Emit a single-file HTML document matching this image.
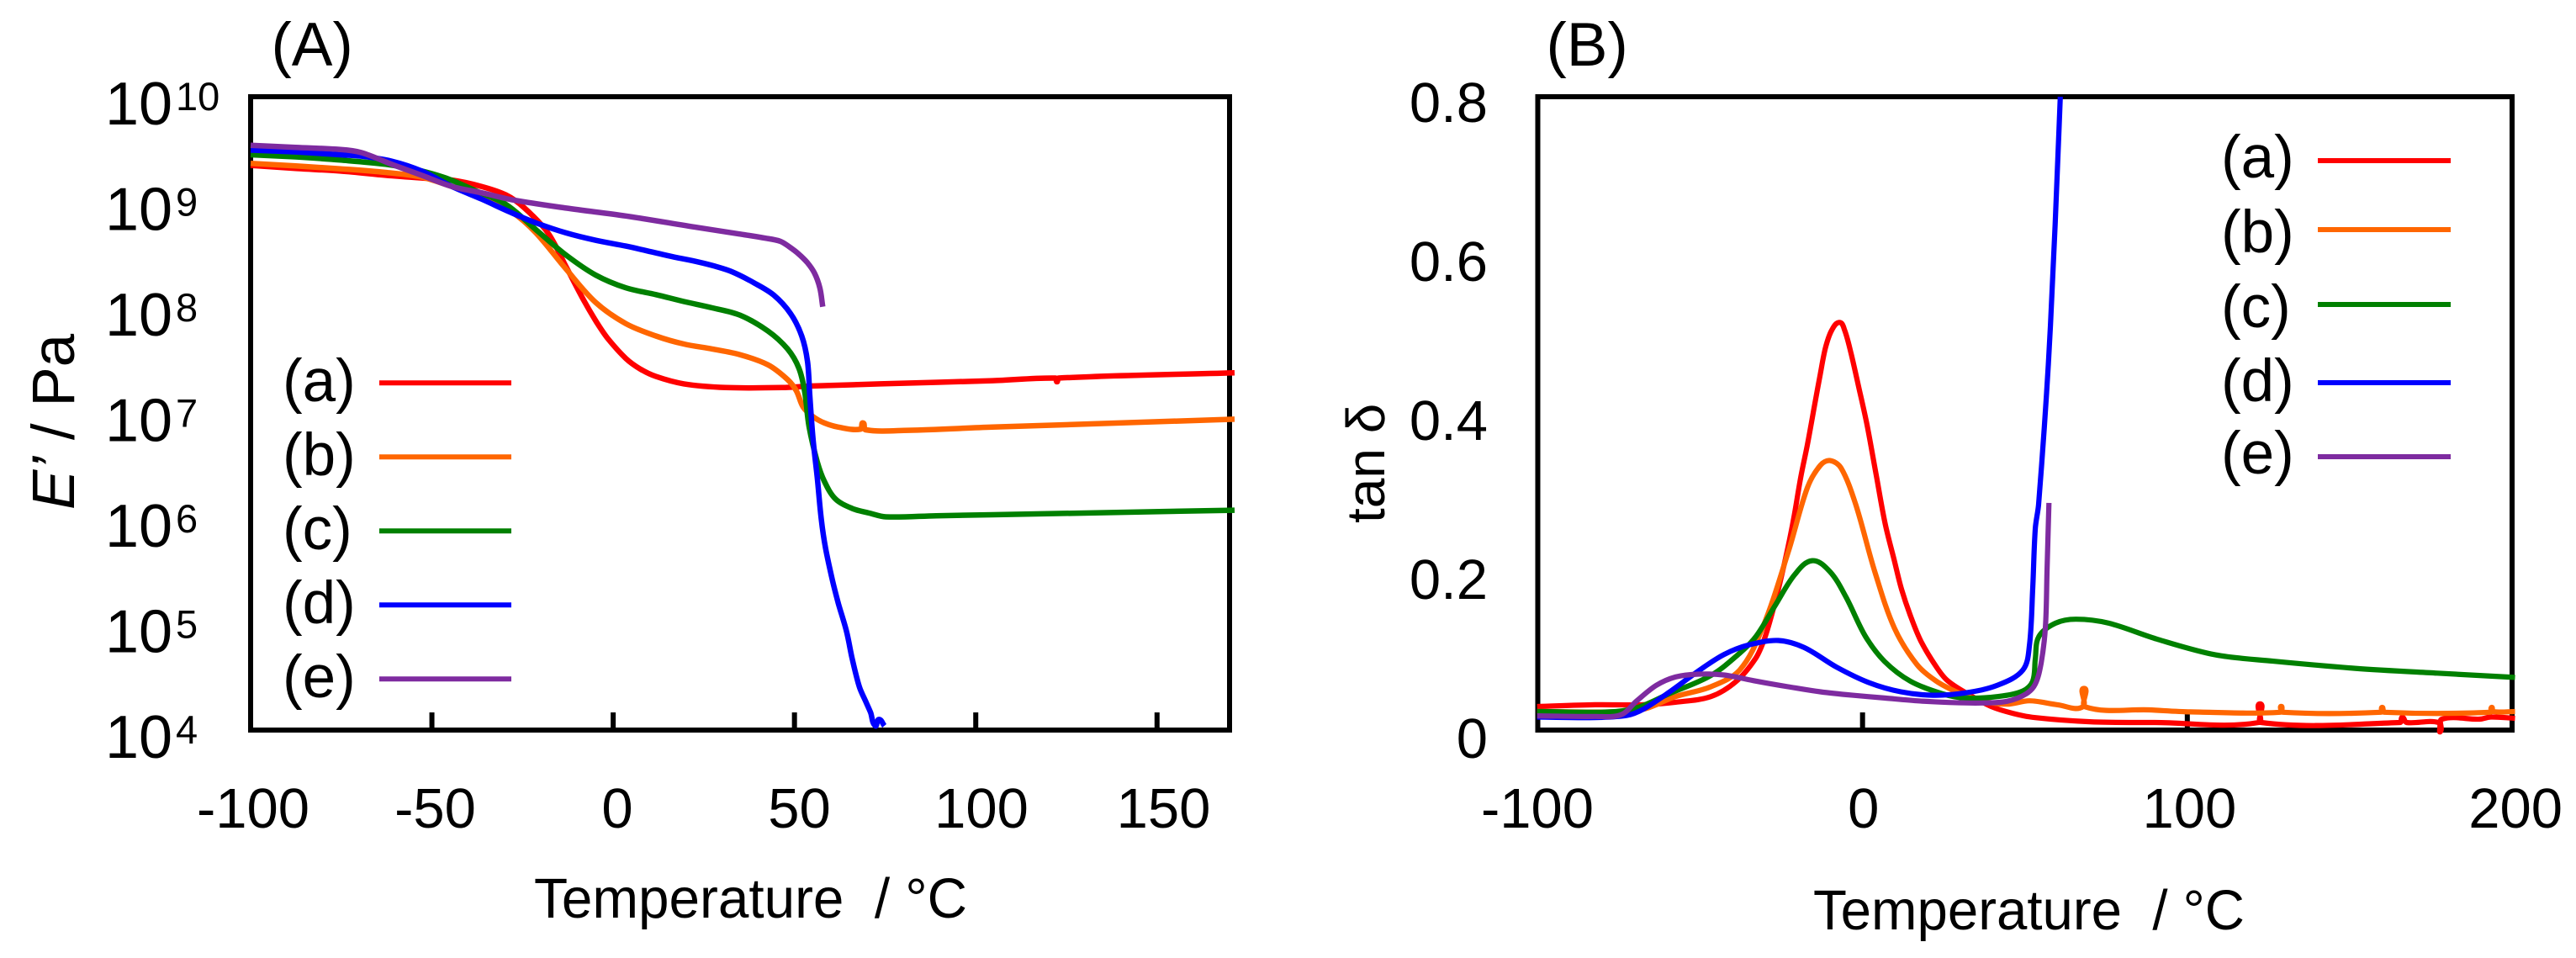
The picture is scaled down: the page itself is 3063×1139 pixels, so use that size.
<!DOCTYPE html>
<html lang="en">
<head>
<meta charset="utf-8">
<title>Storage modulus and tan delta versus temperature</title>
<style>
html,body{margin:0;padding:0;background:#fff}
svg{display:block;font-family:"Liberation Sans",Arial,sans-serif;fill:#000}
</style>
</head>
<body>
<svg id="figure" xmlns="http://www.w3.org/2000/svg" width="3063" height="1139" viewBox="0 0 3063 1139">
  <rect x="0" y="0" width="3063" height="1139" fill="#fff"/>
  <g id="panelA">
    <text x="322.5" y="78" font-size="73">(A)</text>
    <rect x="298" y="115" width="1164" height="753" fill="none" stroke="#000" stroke-width="6"/>
    <text x="635" y="1091" font-size="67" textLength="515" lengthAdjust="spacingAndGlyphs" xml:space="preserve">Temperature  / °C</text>
    <text transform="translate(88,606) rotate(-90)" font-size="71"><tspan font-style="italic">E’</tspan> / Pa</text>
  </g>
  <g id="panelB">
    <text x="1838.5" y="78" font-size="73">(B)</text>
    <rect x="1828.5" y="115" width="1158.5" height="753" fill="none" stroke="#000" stroke-width="6"/>
    <text x="2156" y="1105" font-size="67" textLength="513" lengthAdjust="spacingAndGlyphs" xml:space="preserve">Temperature  / °C</text>
    <text transform="translate(1646,622) rotate(-90)" font-size="64">tan δ</text>
  </g>
</svg>
<script>
// ---- Panel A: temperature (deg C) and log10(E' / Pa) ----
const tempA_a = [-100,-87.6,-75.2,-62.8,-52.8,-44.5,-36.3,-29.6,-24.6,-18,-13,-8.1,-4.5,-1.5,3.5,7.5,11.8,19.5,31.1,46.6,55.1,73.7,104.6,122,122.4,122.8,171.4];
const logE_a  = [9.35,9.32,9.296,9.256,9.23,9.21,9.15,9.07,8.95,8.71,8.39,8.07,7.86,7.71,7.52,7.42,7.35,7.28,7.245,7.245,7.26,7.28,7.31,7.335,7.30,7.335,7.385];
const tempA_b = [-100,-87.6,-75.2,-62.8,-52.8,-44.5,-36.3,-28,-21.3,-13,-4.8,3.5,11.8,19.5,27.3,35,42.7,48.1,50.5,52.4,55.1,58.2,62.1,68.2,68.9,69.6,81.4,104.6,171.4];
const logE_b  = [9.368,9.344,9.317,9.283,9.238,9.15,9.057,8.91,8.71,8.367,8.05,7.85,7.733,7.657,7.61,7.556,7.46,7.32,7.215,7.06,6.97,6.91,6.87,6.85,6.91,6.845,6.84,6.87,6.945];
const tempA_c = [-100,-87.6,-75.2,-62.8,-54.5,-46.2,-38,-29.6,-21.3,-13,-4.8,3.5,11.8,19.5,27.3,35,42.7,48.1,51.2,52.8,54,56.3,58.2,61.3,65.9,70.6,75.2,89.1,104.6,171.4];
const logE_c  = [9.45,9.43,9.40,9.36,9.31,9.23,9.11,8.98,8.74,8.50,8.31,8.19,8.125,8.06,8.0,7.93,7.78,7.61,7.43,7.21,6.88,6.54,6.36,6.19,6.10,6.056,6.02,6.03,6.04,6.083];
const tempA_d = [-100,-87.6,-75.2,-69.4,-61.1,-52.8,-44.5,-36.3,-28,-21.3,-13,-4.8,3.5,11.8,17,23.4,28,32.7,38.9,44.3,48.9,52,53.6,54.2,55.1,56.3,57.4,58.6,60.5,62.1,64.4,65.9,67.9,69.8,71,72.3,73.3,74.8];
const logE_d  = [9.495,9.477,9.45,9.437,9.39,9.296,9.15,9.03,8.90,8.805,8.71,8.64,8.585,8.52,8.48,8.435,8.395,8.343,8.236,8.12,7.947,7.733,7.49,7.18,6.76,6.39,5.995,5.72,5.416,5.2,4.93,4.68,4.41,4.26,4.166,4.04,4.10,4.04];
const tempA_e = [-100,-87.6,-75.2,-69.4,-61.1,-52.8,-44.5,-36.3,-28,-13,3.5,23.4,34.8,42,46.1,48.5,51,53.5,55.5,57,57.8];
const logE_e  = [9.54,9.52,9.50,9.47,9.36,9.256,9.15,9.09,9.025,8.945,8.87,8.76,8.70,8.66,8.63,8.58,8.515,8.43,8.33,8.19,8.01];

// ---- Panel B: temperature (deg C) and tan delta ----
const tempB_a = [-100.2,-82.4,-67.5,-57.6,-46.7,-38.8,-33,-30.5,-28,-25.5,-23,-21,-19,-17,-15,-13,-11.4,-9.5,-7.1,-5.5,-3.5,-1,1.4,4.3,7,9.8,12,14.7,18,22.7,26,31.6,39.5,46.4,53.2,70,90,122,122.4,122.8,165.5,166.2,167.5,177.4,177.9,178.4,190,193.5,200.9];
const tanD_a  = [0.0297,0.032,0.032,0.0352,0.0423,0.0618,0.09,0.112,0.145,0.185,0.23,0.272,0.32,0.36,0.405,0.45,0.483,0.505,0.515,0.505,0.475,0.43,0.385,0.32,0.26,0.214,0.178,0.145,0.112,0.08,0.063,0.0476,0.03,0.021,0.0157,0.0105,0.0096,0.0096,0.033,0.0096,0.0096,0.016,0.0096,0.0096,-0.002,0.0138,0.0138,0.0165,0.0149];
const tempB_b = [-100.2,-78.4,-67.5,-57.6,-46.7,-37.8,-30.8,-22.9,-17,-13,-10,-6.6,-2.1,3.8,9.8,16.7,22.7,29.6,36.5,44.5,51.4,60,67.8,68.2,68.6,88.4,101,128.6,128.9,129.4,159.6,160,160.6,193.3,193.7,194.2,200.9];
const tanD_b  = [0.0235,0.0228,0.0264,0.0423,0.0547,0.076,0.129,0.2246,0.306,0.3344,0.3404,0.3308,0.2848,0.1998,0.129,0.083,0.0618,0.047,0.037,0.0327,0.037,0.032,0.0293,0.0526,0.0293,0.0255,0.023,0.0225,0.03,0.0225,0.0225,0.0287,0.0225,0.0225,0.0287,0.0234,0.0234];
const tempB_c = [-100.2,-78.4,-69.5,-59.6,-46.7,-37.8,-32.8,-26.9,-20.9,-15.5,-10,-5.1,0.9,6.8,14.7,24.6,31.6,41.5,49.4,52.4,53.2,54.3,59.4,65.7,75.8,91,108.7,126.4,151.6,176.9,200.9];
const tanD_c  = [0.0235,0.0228,0.0282,0.0458,0.0689,0.0972,0.1184,0.1574,0.1963,0.214,0.1998,0.168,0.1184,0.0866,0.0618,0.0458,0.0405,0.0423,0.0494,0.0618,0.09,0.1183,0.135,0.14,0.135,0.1144,0.095,0.087,0.078,0.0719,0.0665];
const tempB_d = [-100.2,-82.4,-72.4,-67.5,-59.6,-50.7,-42.7,-34.8,-25.9,-18,-8,1.9,11.8,21.7,31.6,41.5,49.4,51.4,52.4,53.2,54.2,57.2,59.3,60.9];
const tanD_d  = [0.0165,0.0158,0.0186,0.0264,0.0476,0.0742,0.0954,0.1078,0.1131,0.1043,0.0795,0.06,0.0483,0.044,0.047,0.0565,0.076,0.1078,0.1786,0.255,0.285,0.462,0.639,0.8];
const tempB_e = [-100.2,-82.4,-74.4,-69.5,-63.5,-57.6,-50.6,-42.7,-32.8,-22.9,-13,-3.1,6.8,16.7,26.6,36.5,44.5,50.4,53.2,55,56.3,56.8,57.4];
const tanD_e  = [0.018,0.0172,0.0193,0.037,0.0565,0.067,0.0706,0.0696,0.0618,0.0547,0.0483,0.044,0.0405,0.037,0.0349,0.0342,0.0363,0.0458,0.0582,0.085,0.13,0.2,0.287];

// ---- Ticks, legend, colours ----
const ticksA_x = [-100,-50,0,50,100,150];
const ticksA_y = [10,9,8,7,6,5,4];
const ticksB_x = [-100,0,100,200];
const ticksB_y = [0.8,0.6,0.4,0.2,0];
const tickMarksA_x = [-50,0,50,100,150];
const tickMarksB_x = [0,100];
const legendKeys = ['a','b','c','d','e'];
const legendLabels = ['(a)','(b)','(c)','(d)','(e)'];
const seriesColors = ['#ff0000','#ff6600','#008000','#0000ff','#7e2ba0'];

// ---- Axis functions ----
function xA(t){return 298+(t+100)*1164/270;}
function yA(v){return 115+(10-v)*753/6;}
function xB(t){return 1828.5+(t+100)*1158.5/300;}
function yB(v){return 868-v*753/0.8;}
function labelXA(t){return 301+(t+100)*4.33;}
function labelXB(t){return 1828+(t+100)*3.877;}
function labelYB(v){return 145+(0.8-v)*945;}

const NS='http://www.w3.org/2000/svg';
const panelA=document.getElementById('panelA');
const panelB=document.getElementById('panelB');

function curve(xs,ys,fx,fy){
  const p=xs.map(function(t,i){return [fx(t),fy(ys[i])];});
  let d='M'+p[0][0].toFixed(1)+' '+p[0][1].toFixed(1);
  function tangent(u,v){
    const dx=v[0]-u[0],dy=v[1]-u[1],len=Math.hypot(dx,dy)||1;
    return [dx/len,dy/len];
  }
  for(let i=0;i<p.length-1;i++){
    const a=p[Math.max(i-1,0)],b=p[i],c=p[i+1],e=p[Math.min(i+2,p.length-1)];
    const seg=Math.hypot(c[0]-b[0],c[1]-b[1])/3;
    const t1=tangent(a,c),t2=tangent(b,e);
    d+='C'+(b[0]+t1[0]*seg).toFixed(1)+' '+(b[1]+t1[1]*seg).toFixed(1)+' '
      +(c[0]-t2[0]*seg).toFixed(1)+' '+(c[1]-t2[1]*seg).toFixed(1)+' '
      +c[0].toFixed(1)+' '+c[1].toFixed(1);
  }
  return d;
}

// Panel A ticks
tickMarksA_x.forEach(function(t){
  const el=document.createElementNS(NS,'line');
  
  
  el.setAttribute('x1',xA(t));el.setAttribute('x2',xA(t));
  el.setAttribute('y1',847);el.setAttribute('y2',868);
  el.setAttribute('stroke','#000');el.setAttribute('stroke-width',6);
  panelA.appendChild(el);
});
ticksA_x.forEach(function(t){
  const el=document.createElementNS(NS,'text');
  
  
  el.setAttribute('x',labelXA(t));el.setAttribute('y',984);
  el.setAttribute('font-size',67);el.setAttribute('text-anchor','middle');
  el.textContent=String(t);
  panelA.appendChild(el);
});
ticksA_y.forEach(function(v){
  const base=document.createElementNS(NS,'text');
  
  
  base.setAttribute('x',125);base.setAttribute('y',yA(v)+33);
  base.setAttribute('font-size',72);
  base.textContent='10';
  panelA.appendChild(base);
  const sup=document.createElementNS(NS,'text');
  
  
  sup.setAttribute('x',209);sup.setAttribute('y',yA(v)+16);
  sup.setAttribute('font-size',47);
  sup.textContent=String(v);
  panelA.appendChild(sup);
});

// Panel B ticks
tickMarksB_x.forEach(function(t){
  const el=document.createElementNS(NS,'line');
  
  
  el.setAttribute('x1',xB(t));el.setAttribute('x2',xB(t));
  el.setAttribute('y1',847);el.setAttribute('y2',868);
  el.setAttribute('stroke','#000');el.setAttribute('stroke-width',6);
  panelB.appendChild(el);
});
ticksB_x.forEach(function(t){
  const el=document.createElementNS(NS,'text');
  
  
  el.setAttribute('x',labelXB(t));el.setAttribute('y',984);
  el.setAttribute('font-size',67);el.setAttribute('text-anchor','middle');
  el.textContent=String(t);
  panelB.appendChild(el);
});
ticksB_y.forEach(function(v){
  const el=document.createElementNS(NS,'text');
  
  
  el.setAttribute('x',1769);el.setAttribute('y',labelYB(v));
  el.setAttribute('font-size',67);el.setAttribute('text-anchor','end');
  el.textContent=String(v);
  panelB.appendChild(el);
});

// Series
const seriesA=[[tempA_a,logE_a],[tempA_b,logE_b],[tempA_c,logE_c],[tempA_d,logE_d],[tempA_e,logE_e]];
const seriesB=[[tempB_a,tanD_a],[tempB_b,tanD_b],[tempB_c,tanD_c],[tempB_d,tanD_d],[tempB_e,tanD_e]];
seriesA.forEach(function(s,i){
  const el=document.createElementNS(NS,'path');
  
  
  el.setAttribute('d',curve(s[0],s[1],xA,yA));
  el.setAttribute('fill','none');el.setAttribute('stroke',seriesColors[i]);
  el.setAttribute('stroke-width',6.5);el.setAttribute('stroke-linejoin','round');
  panelA.appendChild(el);
});
seriesB.forEach(function(s,i){
  const el=document.createElementNS(NS,'path');
  
  
  el.setAttribute('d',curve(s[0],s[1],xB,yB));
  el.setAttribute('fill','none');el.setAttribute('stroke',seriesColors[i]);
  el.setAttribute('stroke-width',6.2);el.setAttribute('stroke-linejoin','round');
  panelB.appendChild(el);
});

// Legends
function legendRow(parent,panel,i,tx,ty,x1,x2,ly){
  const t=document.createElementNS(NS,'text');
  
  
  t.setAttribute('x',tx);t.setAttribute('y',ty);t.setAttribute('font-size',71);
  t.textContent=legendLabels[i];
  parent.appendChild(t);
  const l=document.createElementNS(NS,'line');
  
  
  l.setAttribute('x1',x1);l.setAttribute('x2',x2);
  l.setAttribute('y1',ly);l.setAttribute('y2',ly);
  l.setAttribute('stroke',seriesColors[i]);l.setAttribute('stroke-width',6);
  parent.appendChild(l);
}
legendKeys.forEach(function(k,i){
  legendRow(panelA,'panel-a',i,336,477+88*i,451,608,455.3+88*i);
});
const legendB_textY=[211,300,389,477,563];
const legendB_lineY=[191,273,362,455,543];
legendKeys.forEach(function(k,i){
  legendRow(panelB,'panel-b',i,2641,legendB_textY[i],2756,2914,legendB_lineY[i]);
});
</script>
</body>
</html>
